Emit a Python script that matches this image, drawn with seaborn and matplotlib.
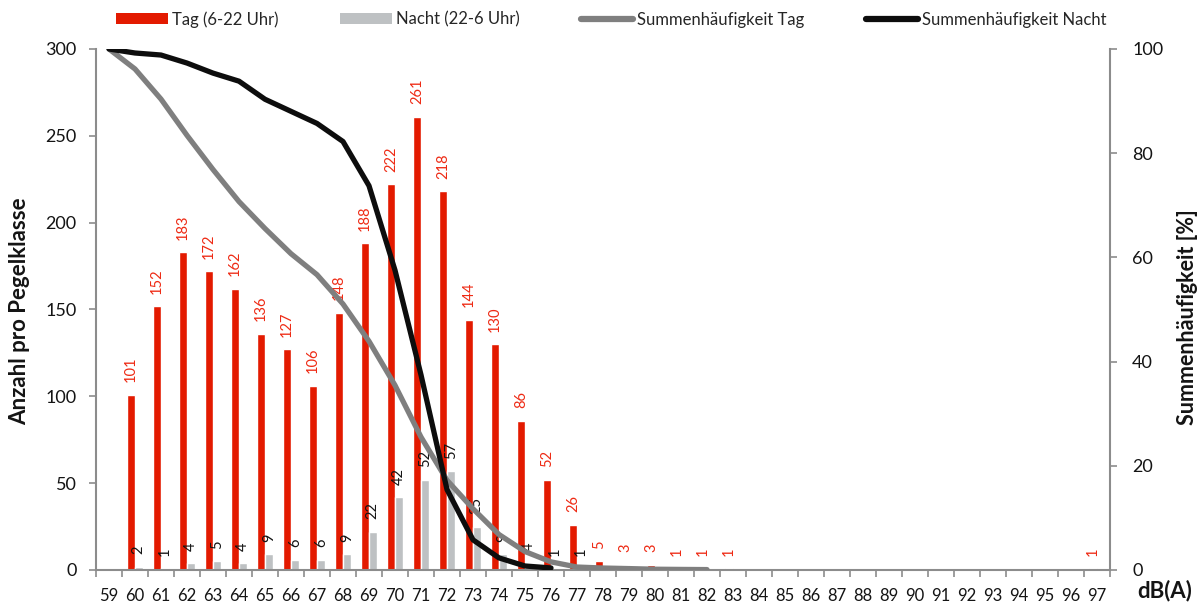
import numpy as np
import pandas as pd
import matplotlib
matplotlib.use("Agg")
import matplotlib.pyplot as plt
import seaborn as sns
from matplotlib.patches import Patch
from matplotlib.lines import Line2D
from matplotlib.ticker import FixedLocator, NullFormatter

# ---- data ----
levels = list(range(59, 98))
tag = [0, 101, 152, 183, 172, 162, 136, 127, 106, 148, 188, 222, 261, 218, 144, 130, 86, 52, 26,
       5, 3, 3, 1, 1, 1,
       0, 0, 0, 0, 0, 0, 0, 0, 0, 0, 0, 0, 0,
       1]
night = [0, 2, 1, 4, 5, 4, 9, 6, 6, 9, 22, 42, 52, 57, 25, 9, 4, 1, 1,
         0, 0, 0, 0, 0, 0, 0, 0, 0, 0,
         0, 0, 0, 0, 0, 0, 0, 0, 0, 0]
cum_tag_levels = list(range(59, 83))
cum_tag = [100, 96.16, 90.38, 83.42, 76.87, 70.71, 65.54, 60.71, 56.68, 51.05, 43.90, 35.45,
           25.52, 17.23, 11.75, 6.81, 3.54, 1.56, 0.57, 0.38, 0.27, 0.15, 0.11, 0.08]
cum_night_levels = list(range(59, 77))
cum_night = [100, 99.23, 98.84, 97.30, 95.37, 93.82, 90.35, 88.03, 85.71, 82.24, 73.75, 57.53,
             37.45, 15.44, 5.79, 2.32, 0.77, 0.39]

series_names = ["Tag (6-22 Uhr)", "Nacht (22-6 Uhr)"]
line_names = ["Summenhäufigkeit Tag", "Summenhäufigkeit Nacht"]

RED = "#E31A00"
LRED = "#EE2A14"
GREY = "#BEC1C3"
LGREY = "#7F7F7F"
BLACK = "#0D0D0D"
AXC = "#8C8C8C"
TXT = "#141414"

sns.set_theme(style="white")
plt.rcParams["font.family"] = ["Lato", "DejaVu Sans"]

df = pd.DataFrame({
    "level": [str(l) for l in levels] * 2,
    "count": tag + night,
    "series": [series_names[0]] * len(levels) + [series_names[1]] * len(levels),
})
order = [str(l) for l in levels]

fig = plt.figure(figsize=(12.03, 6.04), dpi=100)
ax = fig.add_axes([0.0798, 0.0563, 0.9227 - 0.0798, 0.9189 - 0.0563])
sns.barplot(data=df, x="level", y="count", hue="series", order=order,
            hue_order=series_names, palette=[RED, GREY], width=0.58,
            saturation=1, dodge=True, legend=False, ax=ax)

# data labels
for cont, vals, col in zip(ax.containers, [tag, night], [LRED, TXT]):
    labels = [str(v) if v > 0 else "" for v in vals]
    ax.bar_label(cont, labels=labels, rotation=90, padding=9, color=col, fontsize=10.5)

ax.set_ylim(0, 300)
ax.set_xlim(-0.5, len(levels) - 0.5)
ax.set_yticks(range(0, 301, 50))
ax.set_xlabel("")
ax.set_ylabel("")
ax.tick_params(axis="x", which="major", length=0, labelsize=12, pad=13, colors=TXT)
ax.xaxis.set_minor_locator(FixedLocator([i - 0.5 for i in range(len(levels) + 1)]))
ax.xaxis.set_minor_formatter(NullFormatter())
ax.tick_params(axis="x", which="minor", length=5, width=1.2, color=AXC, direction="out", bottom=True)
ax.tick_params(axis="y", length=5, width=1.2, color=AXC, direction="out", labelsize=13,
               labelcolor=TXT, left=True, pad=9)
for s in ["top", "right"]:
    ax.spines[s].set_visible(False)
for s in ["left", "bottom"]:
    ax.spines[s].set_color(AXC)
    ax.spines[s].set_linewidth(1.5)

ax2 = ax.twinx()
xt = [levels.index(l) for l in cum_tag_levels]
xn = [levels.index(l) for l in cum_night_levels]
sns.lineplot(x=xt, y=cum_tag, ax=ax2, color=LGREY, linewidth=3.8, solid_capstyle="round")
sns.lineplot(x=xn, y=cum_night, ax=ax2, color=BLACK, linewidth=3.8, solid_capstyle="round")
ax2.set_ylim(0, 100)
ax2.set_xlim(-0.5, len(levels) - 0.5)
ax2.set_yticks(range(0, 101, 20))
ax2.set_ylabel("")
ax2.tick_params(axis="y", length=5, width=1.2, color=AXC, direction="out", labelsize=13,
                labelcolor=TXT, right=True, pad=11)
for s in ["top", "left", "bottom"]:
    ax2.spines[s].set_visible(False)
ax2.spines["right"].set_color(AXC)
ax2.spines["right"].set_linewidth(1.5)

fig.text(19.5 / 1203, 1 - 311.5 / 604, "Anzahl pro Pegelklasse", rotation=90, fontsize=16,
         fontweight="bold", ha="center", va="center", color=TXT)
fig.text(1187 / 1203, 1 - 317 / 604, "Summenhäufigkeit [%]", rotation=90, fontsize=15.5,
         fontweight="bold", ha="center", va="center", color=TXT)
fig.text(1165 / 1203, 1 - 591 / 604, "dB(A)", fontsize=16, fontweight="bold",
         ha="center", va="center", color=TXT)

handles = [Patch(facecolor=RED, edgecolor="none"), Patch(facecolor=GREY, edgecolor="none"),
           Line2D([], [], color=LGREY, lw=4.5, solid_capstyle="round"),
           Line2D([], [], color=BLACK, lw=4.5, solid_capstyle="round")]
fig.legend(handles, series_names + line_names, loc="center", bbox_to_anchor=(0.508, 0.968),
           ncol=4, frameon=False, fontsize=12, handlelength=3.1, handleheight=0.6,
           handletextpad=0.25, columnspacing=3.7)

fig.savefig("out.png", dpi=100)
